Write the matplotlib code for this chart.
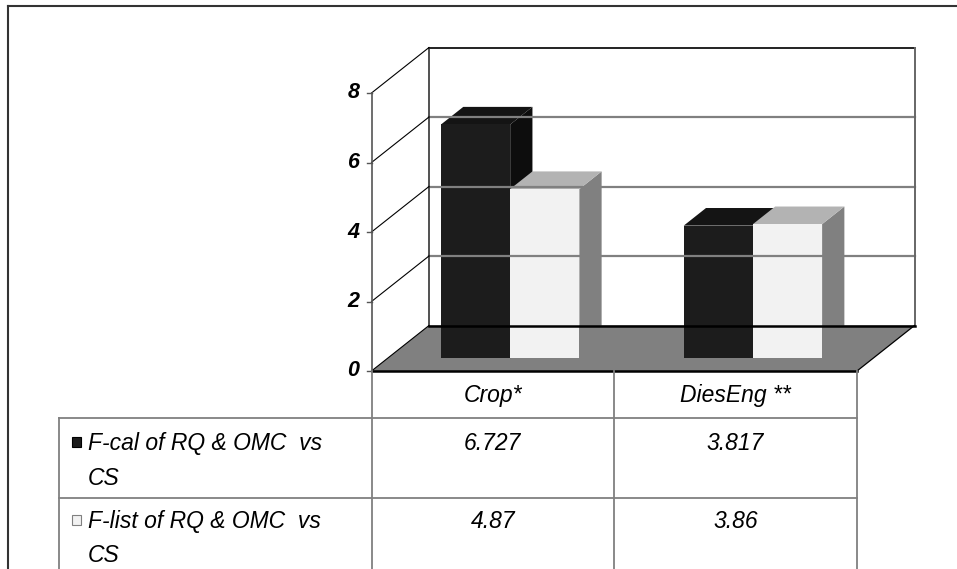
import matplotlib

matplotlib.use("Agg")
import matplotlib.pyplot as plt  # noqa: E402
from matplotlib import transforms  # noqa: E402
from matplotlib.lines import Line2D  # noqa: E402
from matplotlib.patches import Polygon, Rectangle  # noqa: E402

categories = ["Crop*", "DiesEng **"]
series_names = ["F-cal of RQ & OMC  vs CS", "F-list of RQ & OMC  vs CS"]
f_cal = [6.727, 3.817]
f_list = [4.87, 3.86]
y_ticks = [0, 2, 4, 6, 8]

W, H = 957, 569
plt.rcParams["font.family"] = ["Liberation Sans", "DejaVu Sans"]

# face colours per series: front, top, side
FACES = [
    ("#1c1c1c", "#141414", "#0d0d0d"),
    ("#f2f2f2", "#b3b3b3", "#808080"),
]
GRID = "#808080"

fig = plt.figure(figsize=(W / 100, H / 100), dpi=100)
ax = fig.add_axes([0, 0, 1, 1])
ax.axis("off")

# front plane: x in category units, y in value units
X0, XS = 371.5, 242.75  # px of category 0, px per category
Y0, YS = 371.0, 34.75  # px (from top) of value 0, px per unit
ax.set_xlim(-X0 / XS, (W - X0) / XS)
ax.set_ylim(-(H - Y0) / YS, Y0 / YS)

# oblique depth axis: 0 = front edge of the floor, 1 = back wall
DX, DY = 57.5 / XS, 45.5 / YS


def P(x, v, d):
    return (x + d * DX, v + d * DY)


def seg(a, b, **kw):
    ax.add_line(Line2D([a[0], b[0]], [a[1], b[1]], **kw))


def fpx(x, y):
    """pixel position (from top-left) -> figure fraction"""
    return x / W, 1 - y / H


ncat = len(categories)
vmax = y_ticks[-1]

# floor
ax.add_patch(Polygon([P(0, 0, 0), P(ncat, 0, 0), P(ncat, 0, 1), P(0, 0, 1)],
                     closed=True, fc="#808080", ec="none"))

# back wall gridlines and frame
for v in y_ticks[1:-1]:
    seg(P(0, v, 1), P(ncat, v, 1), color=GRID, lw=1.6)
seg(P(0, 0, 1), P(0, vmax, 1), color="#333333", lw=1.2)
seg(P(0, vmax, 1), P(ncat, vmax, 1), color="#222222", lw=1.4)
seg(P(ncat, vmax, 1), P(ncat, 0, 1), color="#666666", lw=1.4)

# side wall diagonals
for v in y_ticks:
    seg(P(0, v, 0), P(0, v, 1), color="black", lw=0.8)

# floor edges
seg(P(0, 0, 1), P(ncat, 0, 1), color="black", lw=1.8)
seg(P(ncat, 0, 0), P(ncat, 0, 1), color="black", lw=0.9)

# front value axis with ticks and labels
seg(P(0, 0, 0), P(0, vmax, 0), color="#555555", lw=1.2)
for v in y_ticks:
    seg((-5 / XS, v), (0, v), color="#555555", lw=1.0)
    ax.text(-12 / XS, v, f"{v}", ha="right", va="center", fontsize=15.5,
            fontweight="bold", fontstyle="italic", color="black")

# 3D bars
BW, GAP0 = 0.285, 0.22
D0, D1 = 0.28, 0.667
for ci in range(ncat):
    for si, vals in enumerate([f_cal, f_list]):
        v = vals[ci]
        x0 = ci + GAP0 + si * BW
        x1 = x0 + BW
        front_c, top_c, side_c = FACES[si]
        side = [P(x1, 0, D0), P(x1, 0, D1), P(x1, v, D1), P(x1, v, D0)]
        top = [P(x0, v, D0), P(x1, v, D0), P(x1, v, D1), P(x0, v, D1)]
        front = [P(x0, 0, D0), P(x1, 0, D0), P(x1, v, D0), P(x0, v, D0)]
        for poly, c in ((side, side_c), (top, top_c), (front, front_c)):
            ax.add_patch(Polygon(poly, closed=True, fc=c, ec="none"))

# floor front edge drawn last so it sits on top
seg(P(0, 0, 0), P(ncat, 0, 0), color="black", lw=1.8)

# data table below the plot
blend = transforms.blended_transform_factory(ax.transData, fig.transFigure)
TCOL = "#808080"
TABLE_LEFT = 59
ROW_LINES = [418, 498]
for cx in range(ncat + 1):
    fig.add_artist(Line2D([cx, cx], [1 - 371 / H, 0], transform=blend,
                          color=TCOL, lw=1.3))
for ry in ROW_LINES:
    xa, _ = fpx(TABLE_LEFT, ry)
    xb, _ = fpx(X0 + ncat * XS, ry)
    fig.add_artist(Line2D([xa, xb], [1 - ry / H] * 2, transform=fig.transFigure,
                          color=TCOL, lw=1.3))
xa, ya = fpx(TABLE_LEFT, ROW_LINES[0])
fig.add_artist(Line2D([xa, xa], [ya, 0], transform=fig.transFigure,
                      color=TCOL, lw=1.3))

TFONT = dict(fontsize=16.5, fontstyle="italic", color="black")
for ci, cat in enumerate(categories):
    ax.text(ci + 0.5, 1 - 402 / H, cat, transform=blend, ha="center",
            va="baseline", **TFONT)

row_base = [(450, 485), (528, 562)]
key_style = [("#1c1c1c", "black"), ("#f2f2f2", "#808080")]
for si, (name, vals) in enumerate(zip(series_names, [f_cal, f_list])):
    b1, b2 = row_base[si]
    line1, line2 = name.rsplit(" ", 1)
    fig.text(*fpx(88, b1), line1, ha="left", va="baseline", **TFONT)
    fig.text(*fpx(88, b2), line2, ha="left", va="baseline", **TFONT)
    kx, ky = fpx(72, b1 - 3)
    fc, ec = key_style[si]
    fig.add_artist(Rectangle((kx, ky), 9 / W, 10 / H, transform=fig.transFigure,
                             fc=fc, ec=ec, lw=0.8))
    for ci, v in enumerate(vals):
        ax.text(ci + 0.5, 1 - b1 / H, f"{v:g}", transform=blend, ha="center",
                va="baseline", **TFONT)

# outer chart border (right and bottom sides fall outside the image)
fig.add_artist(Line2D([8 / W, 1], [1 - 6 / H] * 2, transform=fig.transFigure,
                      color="#333333", lw=1.5))
fig.add_artist(Line2D([8 / W, 8 / W], [1 - 6 / H, 0], transform=fig.transFigure,
                      color="#333333", lw=1.5))

fig.savefig("out.png", dpi=100)
